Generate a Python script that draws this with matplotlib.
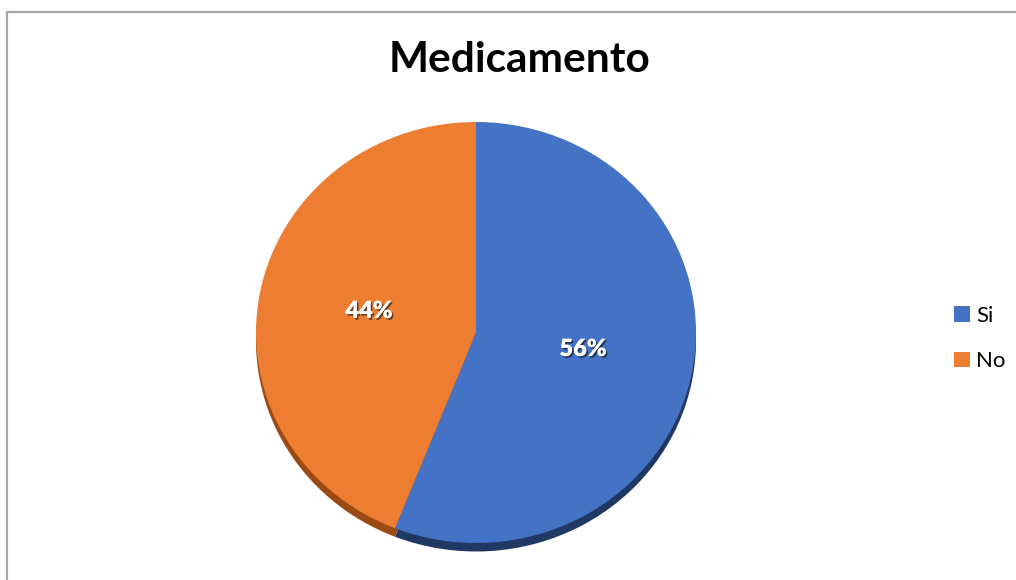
import matplotlib
matplotlib.use("Agg")
import matplotlib.pyplot as plt
import matplotlib.patheffects as pe
from matplotlib.patches import Rectangle

# Share of respondents per answer
labels = ["Si", "No"]
values = [56, 44]
colors = ["#4472C4", "#ED7D31"]
edge_colors = ["#203864", "#9C4A14"]

W, H = 1016, 580
plt.rcParams["font.family"] = ["Lato", "DejaVu Sans"]

fig = plt.figure(figsize=(W / 100, H / 100), dpi=100)

# Chart area border (top and left edges visible)
fig.patches.append(Rectangle((6.5 / W, -0.1), 1.2, (H - 11.5) / H + 0.1,
                             transform=fig.transFigure, fill=False,
                             edgecolor="#A6A6A6", linewidth=1.6))

# Pie axes: centre (476, 332) px, radius 220 px wide, 210 px tall
cx, cy = 476, 332.5
rx, ry = 220, 210.5
lim = 1.2
ax = fig.add_axes([(cx - rx * lim) / W, (H - cy - ry * lim) / H,
                   2 * rx * lim / W, 2 * ry * lim / H])

# Side of the tilted disc
depth = 8.5 / ry
ax.pie(values, colors=edge_colors, startangle=90, counterclock=False,
       center=(0, -depth), radius=1.0, frame=True,
       wedgeprops=dict(linewidth=0))
wedges, _ = ax.pie(values, colors=colors, startangle=90, counterclock=False,
                   center=(0, 0), radius=1.0, frame=True,
                   wedgeprops=dict(linewidth=0))
ax.set_xlim(-lim, lim)
ax.set_ylim(-lim, lim)
ax.set_aspect("auto")
ax.axis("off")

# Percentage labels
label_pos = [((583 - cx) / rx, (cy - 349) / ry), ((369 - cx) / rx, (cy - 311) / ry)]
shadow = [pe.withSimplePatchShadow(offset=(1.2, -1.2), shadow_rgbFace="black", alpha=0.55),
          pe.Normal()]
for v, (px, py) in zip(values, label_pos):
    t = ax.text(px, py, f"{v}%", ha="center", va="center", color="white",
                fontsize=17, fontweight="heavy")
    t.set_path_effects(shadow)

fig.text(520 / W, 1 - 60 / H, "Medicamento", ha="center", va="center",
         fontsize=30.5, fontweight="bold", color="black")

fig.legend(wedges, labels, loc="center left", bbox_to_anchor=(934 / W, 1 - 338.5 / H),
           frameon=False, fontsize=16, handlelength=0.7, handleheight=0.7,
           handletextpad=0.3, labelspacing=1.15)

fig.savefig("out.png", dpi=100)
